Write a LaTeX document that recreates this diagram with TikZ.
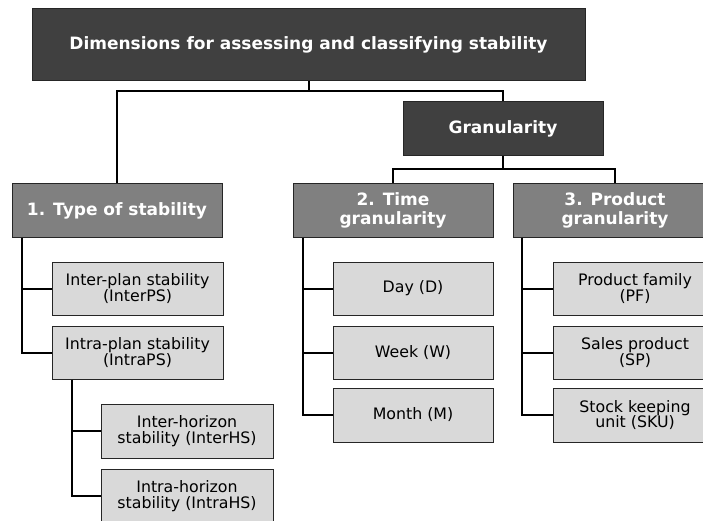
\documentclass[tikz,border=0pt]{standalone}
\usepackage{fontspec}
\setmainfont{DejaVu Sans}
\usepackage{tikz}
\usetikzlibrary{positioning}
\definecolor{darkbox}{RGB}{64,64,64}
\definecolor{midbox}{RGB}{128,128,128}
\definecolor{lightbox}{RGB}{217,217,217}
\definecolor{boxline}{RGB}{38,38,38}

\begin{document}
\begin{tikzpicture}[x=1pt,y=-1pt,
		headbox/.style={draw=boxline, line width=1pt, fill=darkbox, text=white, align=center, font=\fontsize{17}{18}\selectfont\bfseries},
		dimbox/.style={draw=boxline, line width=1pt, fill=midbox, text=white, align=center, minimum height=53pt, font=\fontsize{17}{18.5}\selectfont\bfseries},
		itembox/.style={draw=boxline, line width=1pt, fill=lightbox, align=center, minimum height=53pt, font=\fontsize{15.8}{15.5}\selectfont},
		link/.style={line width=2pt}]
			\useasboundingbox (0,0) rectangle (703,521);
			\clip (0,0) rectangle (703,521);
			\node[headbox, minimum width=553pt, minimum height=72pt] (title) at (308.5,45) {Dimensions for assessing and classifying stability};
			\node[headbox, minimum width=200pt, minimum height=54pt] (gran) at (503,129) {Granularity};
			\node[dimbox, minimum width=210pt] (type) at (117,210.5) {1. Type of stability};
			\node[dimbox, minimum width=200pt] (time) at (393,210.5) {2. Time\\granularity};
			\node[dimbox, minimum width=204pt] (prod) at (615,210.5) {3. Product\\granularity};
			\node[itembox, minimum width=171pt] (interps) at (137.5,288.5) {Inter-plan stability\\(InterPS)};
			\node[itembox, minimum width=171pt] (intraps) at (137.5,352.5) {Intra-plan stability\\(IntraPS)};
			\node[itembox, minimum width=172pt, minimum height=54pt] (interhs) at (187,431) {Inter-horizon\\stability (InterHS)};
			\node[itembox, minimum width=172pt, minimum height=54pt] (intrahs) at (187,496) {Intra-horizon\\stability (IntraHS)};
			\node[itembox, minimum width=160pt] (day) at (413,288.5) {Day (D)};
			\node[itembox, minimum width=160pt] (week) at (413,352.5) {Week (W)};
			\node[itembox, minimum width=160pt, minimum height=54pt] (month) at (413,415) {Month (M)};
			\node[itembox, minimum width=164pt] (pf) at (635,288.5) {Product family\\(PF)};
			\node[itembox, minimum width=164pt] (sp) at (635,352.5) {Sales product\\(SP)};
			\node[itembox, minimum width=164pt, minimum height=54pt] (sku) at (635,415) {Stock keeping\\unit (SKU)};
			\draw[link] (title.south) -- ++(0,10) -| (type.north);
			\draw[link] (title.south) -- ++(0,10) -| (gran.north);
			\draw[link] (gran.south) -- ++(0,13) -| (time.north);
			\draw[link] (gran.south) -- ++(0,13) -| (prod.north);
			\draw[link] (type.south west) ++(10,0) |- (interps.west);
			\draw[link] (type.south west) ++(10,0) |- (intraps.west);
			\draw[link] (intraps.south west) ++(20,0) |- (interhs.west);
			\draw[link] (intraps.south west) ++(20,0) |- (intrahs.west);
			\draw[link] (time.south west) ++(10,0) |- (day.west);
			\draw[link] (time.south west) ++(10,0) |- (week.west);
			\draw[link] (time.south west) ++(10,0) |- (month.west);
			\draw[link] (prod.south west) ++(9,0) |- (pf.west);
			\draw[link] (prod.south west) ++(9,0) |- (sp.west);
			\draw[link] (prod.south west) ++(9,0) |- (sku.west);
		\end{tikzpicture}
\end{document}
